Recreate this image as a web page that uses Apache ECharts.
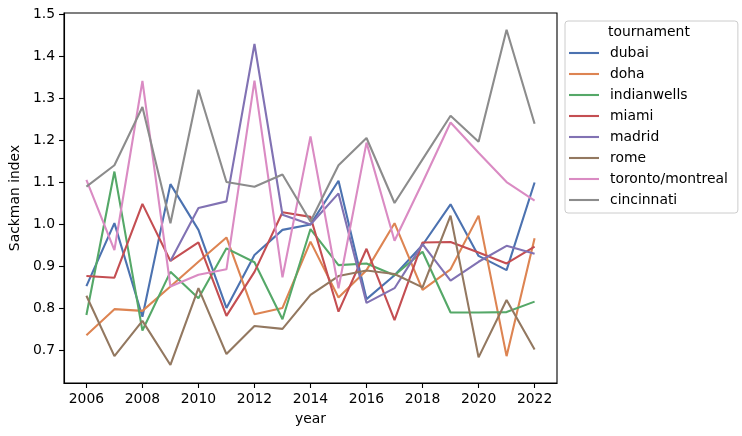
<!DOCTYPE html>
<html>
<head>
<meta charset="utf-8">
<script src="https://cdn.jsdelivr.net/npm/echarts@6/dist/echarts.min.js"></script>
<style>
html,body{margin:0;padding:0;background:#fff;}
#chart{width:742px;height:436px;}
</style>
</head>
<body>
<div id="chart"></div>
<script>
const years = [2006,2007,2008,2009,2010,2011,2012,2013,2014,2015,2016,2017,2018,2019,2020,2021,2022];
const tournaments = ['dubai','doha','indianwells','miami','madrid','rome','toronto/montreal','cincinnati'];
const dubai       = [0.853,1.003,0.780,1.096,0.987,0.801,0.927,0.987,1.000,1.104,0.822,0.879,0.951,1.048,0.925,0.891,1.100];
const doha        = [0.736,0.798,0.794,0.852,0.911,0.969,0.786,0.801,0.959,0.826,0.891,1.003,0.844,0.893,1.021,0.686,0.967];
const indianwells = [0.784,1.126,0.747,0.887,0.824,0.943,0.910,0.774,0.989,0.903,0.907,0.879,0.935,0.790,0.790,0.791,0.816];
const miami       = [0.877,0.873,1.049,0.913,0.957,0.782,0.887,1.029,1.018,0.792,0.942,0.772,0.957,0.958,0.933,0.907,0.947];
const madrid      = [null,null,null,0.913,1.039,1.055,1.430,1.023,1.000,1.074,0.813,0.848,0.953,0.866,0.911,0.949,0.930];
const rome        = [0.830,0.686,0.770,0.665,0.848,0.691,0.758,0.751,0.832,0.877,0.890,0.882,0.850,1.021,0.683,0.820,0.702];
const toronto     = [1.106,0.939,1.342,0.852,0.880,0.893,1.343,0.874,1.210,0.848,1.195,0.961,1.100,1.243,1.171,1.101,1.057];
const cincinnati  = [1.090,1.141,1.280,1.003,1.321,1.101,1.090,1.119,1.007,1.141,1.206,1.051,1.155,1.259,1.197,1.464,1.240];
const yTicks = [0.7,0.8,0.9,1.0,1.1,1.2,1.3,1.4,1.5];
const xTicks = [2006,2008,2010,2012,2014,2016,2018,2020,2022];

const seriesValues = [dubai,doha,indianwells,miami,madrid,rome,toronto,cincinnati];
const colors = ['#4c72b0','#dd8452','#55a868','#c44e52','#8172b3','#937860','#da8bc3','#8c8c8c'];
const FONT = 'DejaVu Sans';

const chart = echarts.init(document.getElementById('chart'), null, {renderer:'canvas'});
const series = tournaments.map((name,i)=>({
  name: name,
  type: 'line',
  data: years.map((y,j)=>[y, seriesValues[i][j]]),
  symbol: 'none',
  connectNulls: false,
  lineStyle: {width: 2.1, color: colors[i]},
  itemStyle: {color: colors[i]},
  emphasis: {disabled: true},
  animation: false
}));

chart.setOption({
  animation: false,
  textStyle: {fontFamily: FONT},
  grid: {left: 62, right: 185, top: 13, bottom: 53, show: true, borderColor: '#000', borderWidth: 1.1, backgroundColor: 'transparent'},
  xAxis: {
    type: 'value', min: 2005.2, max: 2022.8,
    name: 'year', nameLocation: 'middle', nameGap: 29,
    nameTextStyle: {fontFamily: FONT, fontSize: 13.9, color: '#000'},
    axisLine: {show: true, lineStyle: {color: '#000', width: 1.1}},
    axisTick: {show: true, length: 5, inside: false, customValues: xTicks, lineStyle: {color: '#000', width: 1.1}},
    axisLabel: {show: true, customValues: xTicks, margin: 9, fontFamily: FONT, fontSize: 13.9, color: '#000', formatter: v => String(v)},
    splitLine: {show: false}
  },
  yAxis: {
    type: 'value', min: 0.622, max: 1.504,
    name: 'Sackman index', nameLocation: 'middle', nameGap: 37,
    nameTextStyle: {fontFamily: FONT, fontSize: 13.9, color: '#000'},
    axisLine: {show: true, lineStyle: {color: '#000', width: 1.1}},
    axisTick: {show: true, length: 5, inside: false, customValues: yTicks, lineStyle: {color: '#000', width: 1.1}},
    axisLabel: {show: true, customValues: yTicks, margin: 9, fontFamily: FONT, fontSize: 13.9, color: '#000', formatter: v => v.toFixed(1)},
    splitLine: {show: false}
  },
  legend: {
    orient: 'vertical',
    left: 565, top: 21,
    width: 167,
    padding: [25, 10, 6, 4],
    backgroundColor: 'rgba(255,255,255,0.8)',
    borderColor: '#cccccc', borderWidth: 1, borderRadius: 3,
    icon: 'rect',
    itemWidth: 30, itemHeight: 2.1,
    itemGap: 7,
    selectedMode: false,
    textStyle: {fontFamily: FONT, fontSize: 13.9, color: '#000', lineHeight: 14, padding: [0,0,0,6]},
    data: tournaments
  },
  graphic: [{
    type: 'text', left: 608, top: 25, z: 1000, zlevel: 1,
    style: {text: 'tournament', font: '13.9px "DejaVu Sans"', fill: '#000'}
  }],
  series: series
});
</script>
</body>
</html>
